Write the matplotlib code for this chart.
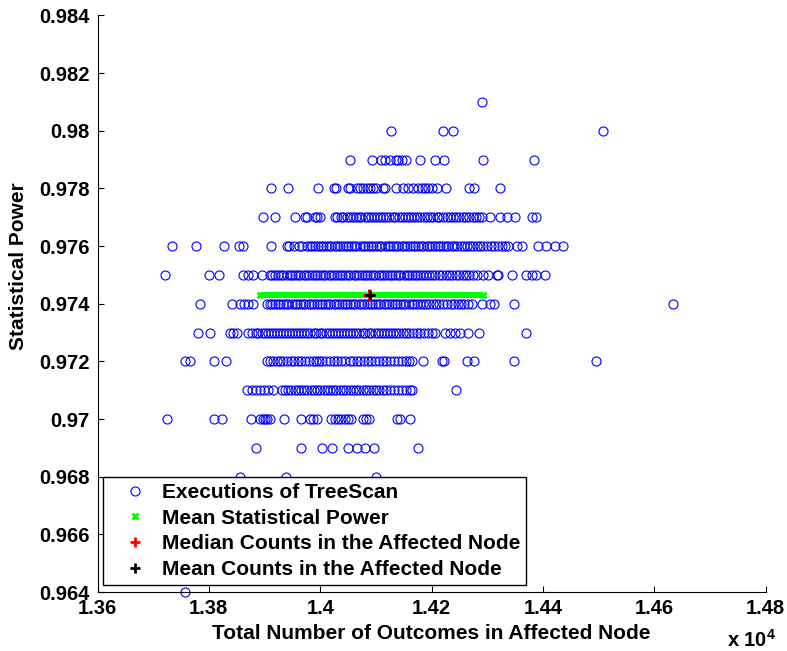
import matplotlib
matplotlib.use('Agg')
import matplotlib.pyplot as plt
from matplotlib.lines import Line2D
from matplotlib.ticker import FuncFormatter, MultipleLocator

plt.rcParams['font.family'] = 'Liberation Sans'
plt.rcParams['font.weight'] = 'bold'
plt.rcParams['mathtext.fontset'] = 'custom'
plt.rcParams['mathtext.rm'] = 'Liberation Sans:bold'
plt.rcParams['mathtext.bf'] = 'Liberation Sans:bold'

# Outcome counts in the affected node, grouped by the statistical power of each run
counts_981 = [14291]
counts_980 = [14127, 14220, 14239, 14508]
counts_979 = [14054, 14093, 14109, 14117, 14126, 14136, 14140, 14147, 14154, 14180,
              14206, 14223, 14292, 14384]
counts_978 = [13911, 13943, 13996, 14025, 14028, 14050, 14053, 14066, 14071, 14077,
              14084, 14090, 14095, 14101, 14113, 14117, 14136, 14149, 14158, 14167,
              14176, 14182, 14188, 14194, 14200, 14209, 14226, 14268, 14276, 14323]
counts_977 = [13897, 13919, 13955, 13973, 13977, 13990, 13995, 13999,
              14026, 14031, 14037, 14041, 14048, 14053, 14058, 14064, 14069, 14073,
              14080, 14086, 14091, 14097, 14102, 14108, 14112, 14119, 14124, 14130,
              14134, 14141, 14147, 14152, 14158, 14163, 14169, 14174, 14180, 14186,
              14191, 14197, 14203, 14209, 14214, 14220, 14227, 14233, 14238, 14244,
              14250, 14256, 14262, 14268, 14274, 14280, 14285, 14290,
              14305, 14323, 14335, 14350, 14380, 14387]
counts_976 = [13733, 13777, 13827, 13855, 13862, 13911, 13940, 13944, 13952, 13961,
              13968, 13976, 13981, 13986, 13990, 13996, 14001, 14005, 14011, 14016,
              14020, 14026, 14031, 14035, 14041, 14046, 14050, 14056, 14061, 14065,
              14071, 14076, 14080, 14086, 14091, 14095, 14101, 14106, 14110, 14116,
              14121, 14125, 14131, 14136, 14140, 14146, 14151, 14155, 14161, 14166,
              14170, 14176, 14181, 14185, 14191, 14196, 14200, 14206, 14211, 14215,
              14221, 14226, 14230, 14236, 14241, 14246, 14252, 14258, 14263, 14269,
              14275, 14281, 14287, 14293, 14299, 14306, 14312, 14319, 14326, 14332,
              14338, 14353, 14363, 14391, 14406, 14421, 14436]
counts_975 = [13722, 13801, 13818, 13861, 13871, 13880, 13895,
              13910, 13914, 13919, 13925, 13930, 13934, 13940, 13945, 13949, 13955,
              13960, 13964, 13970, 13975, 13979, 13985, 13990, 13994, 14000, 14005,
              14009, 14015, 14020, 14024, 14030, 14035, 14039, 14045, 14050, 14054,
              14060, 14065, 14069, 14075, 14080, 14084, 14090, 14095, 14099, 14105,
              14110, 14114, 14120, 14125, 14129, 14135, 14140, 14144, 14150, 14155,
              14159, 14165, 14170, 14174, 14180, 14185, 14190, 14196, 14201, 14207,
              14213, 14219, 14225, 14231, 14237, 14244, 14250, 14256, 14262, 14268,
              14275, 14281, 14293, 14302, 14317, 14320, 14345, 14369, 14380, 14387,
              14403]
counts_974 = [13784, 13841, 13856, 13863, 13871, 13879,
              13904, 13909, 13913, 13919, 13924, 13928, 13934, 13939, 13943, 13949,
              13954, 13958, 13964, 13969, 13973, 13979, 13984, 13988, 13994, 13999,
              14003, 14009, 14014, 14018, 14024, 14029, 14033, 14039, 14044, 14048,
              14054, 14059, 14063, 14069, 14074, 14078, 14084, 14089, 14093, 14099,
              14104, 14108, 14114, 14119, 14123, 14129, 14134, 14138, 14144, 14149,
              14153, 14159, 14164, 14168, 14174, 14179, 14184, 14190, 14196, 14202,
              14208, 14214, 14221, 14227, 14234, 14240, 14247, 14253, 14259, 14266,
              14272, 14290, 14305, 14312, 14348, 14634]
counts_973 = [13780, 13802, 13838, 13844, 13850, 13871, 13877,
              13884, 13889, 13895, 13900, 13906, 13911, 13917, 13922, 13927, 13933,
              13938, 13944, 13949, 13955, 13960, 13966, 13971, 13977, 13982, 13988,
              13993, 13999, 14004, 14010, 14015, 14021, 14026, 14032, 14037, 14043,
              14048, 14054, 14059, 14065, 14070, 14076, 14081, 14087, 14092, 14098,
              14103, 14109, 14114, 14120, 14125, 14131, 14136, 14142, 14148, 14154,
              14160, 14167, 14174, 14180, 14187, 14193, 14200, 14206,
              14224, 14233, 14242, 14251, 14265, 14285, 14369]
counts_972 = [13757, 13766, 13809, 13831,
              13904, 13910, 13916, 13922, 13928, 13934, 13940, 13947, 13953, 13960,
              13966, 13972, 13980, 13987, 13992, 13998, 14004, 14011, 14018, 14024,
              14031, 14037, 14044, 14053, 14059, 14066, 14072, 14079, 14086, 14092,
              14099, 14106, 14112, 14119, 14126, 14133, 14140, 14147, 14154, 14160,
              14164, 14184, 14218, 14222, 14263, 14276, 14348, 14495]
counts_971 = [13869, 13877, 13885, 13892, 13899, 13907, 13915,
              13931, 13937, 13943, 13948, 13954, 13960, 13966, 13971, 13977, 13983,
              13989, 13994, 14000, 14006, 14012, 14017, 14023, 14029, 14035, 14041,
              14047, 14053, 14059, 14064, 14070, 14076, 14082, 14088, 14094, 14100,
              14106, 14113, 14119, 14126, 14133, 14140, 14147, 14154, 14161, 14164,
              14244]
counts_970 = [13725, 13809, 13823, 13875, 13892, 13897, 13901, 13905, 13910, 13935,
              13965, 13982, 13987, 13994, 14020, 14026, 14032, 14038, 14044, 14050,
              14056, 14076, 14082, 14088, 14137, 14143, 14162]
counts_969 = [13885, 13965, 14003, 14022, 14050, 14066, 14080, 14096, 14176]
counts_968 = [13856, 13938, 14101]
counts_964 = [13757]

power_levels = [0.981, 0.980, 0.979, 0.978, 0.977, 0.976, 0.975, 0.974,
                0.973, 0.972, 0.971, 0.970, 0.969, 0.968, 0.964]
counts_by_level = [counts_981, counts_980, counts_979, counts_978, counts_977,
                   counts_976, counts_975, counts_974, counts_973, counts_972,
                   counts_971, counts_970, counts_969, counts_968, counts_964]

mean_power = 0.97430
mean_power_span = [13892, 14293]
median_count = 14088
mean_count = 14090

x = []
y = []
for level, counts in zip(power_levels, counts_by_level):
    x += counts
    y += [level] * len(counts)

fig = plt.figure(figsize=(7.87, 6.51), dpi=100)
ax = fig.add_axes([0.1239, 0.0906, 0.849, 0.8856])

ax.plot(x, y, 'o', color='#0000ff', mfc='none', mec='#0000ff', ms=6.5, mew=0.8,
        clip_on=False, zorder=2)

# mean statistical power band
ax.plot(mean_power_span, [mean_power, mean_power], '-', color='#00ff00', lw=4.3,
        solid_capstyle='butt', zorder=3)
ax.plot(mean_power_span, [mean_power, mean_power], 'x', color='#00ff00', ms=5, mew=2,
        zorder=3)
ax.plot(median_count, mean_power, '+', color='#ff0000', ms=8, mew=2.2, zorder=4)
ax.plot(mean_count, mean_power, '+', color='black', ms=7, mew=2, zorder=5)

ax.set_xlim(13600, 14800)
ax.set_ylim(0.964, 0.984)
ax.xaxis.set_major_locator(MultipleLocator(200))
ax.yaxis.set_major_locator(MultipleLocator(0.002))
ax.xaxis.set_major_formatter(FuncFormatter(lambda v, _: f'{v / 1e4:g}'))
ax.yaxis.set_major_formatter(FuncFormatter(lambda v, _: f'{v:g}'))

ax.spines['top'].set_visible(False)
ax.spines['right'].set_visible(False)
for s in ['left', 'bottom']:
    ax.spines[s].set_linewidth(0.8)
ax.tick_params(direction='in', length=4, width=0.8, labelsize=14.5)
ax.tick_params(axis='y', pad=5.5)
ax.tick_params(axis='x', pad=5)

ax.set_xlabel('Total Number of Outcomes in Affected Node', fontsize=15, fontweight='bold')
ax.set_ylabel('Statistical Power', fontsize=15, fontweight='bold')
ax.xaxis.set_label_coords(0.499, -0.055)
ax.yaxis.set_label_coords(-0.1036, 0.5655)

ax.text(0.979, -0.083, r'x 10$^{4}$', transform=ax.transAxes, fontsize=14.5,
        fontweight='bold', ha='center', va='center')

handles = [
    Line2D([], [], ls='none', marker='o', mfc='none', mec='#0000ff', ms=6.5, mew=0.8),
    Line2D([], [], ls='none', marker='x', color='#00ff00', ms=5, mew=2),
    Line2D([], [], ls='none', marker='+', color='#ff0000', ms=7, mew=2),
    Line2D([], [], ls='none', marker='+', color='black', ms=7, mew=2),
]
labels = ['Executions of TreeScan', 'Mean Statistical Power',
          'Median Counts in the Affected Node', 'Mean Counts in the Affected Node']
leg = ax.legend(handles, labels, loc='lower left', bbox_to_anchor=(0.0087, 0.0127),
                borderaxespad=0, fontsize=15, fancybox=False, framealpha=1,
                edgecolor='black', handlelength=2.5, handletextpad=0.05,
                borderpad=0.28, labelspacing=0.32)
leg.get_frame().set_linewidth(1.0)
leg.set_zorder(10)

fig.savefig('out.png', dpi=100)
